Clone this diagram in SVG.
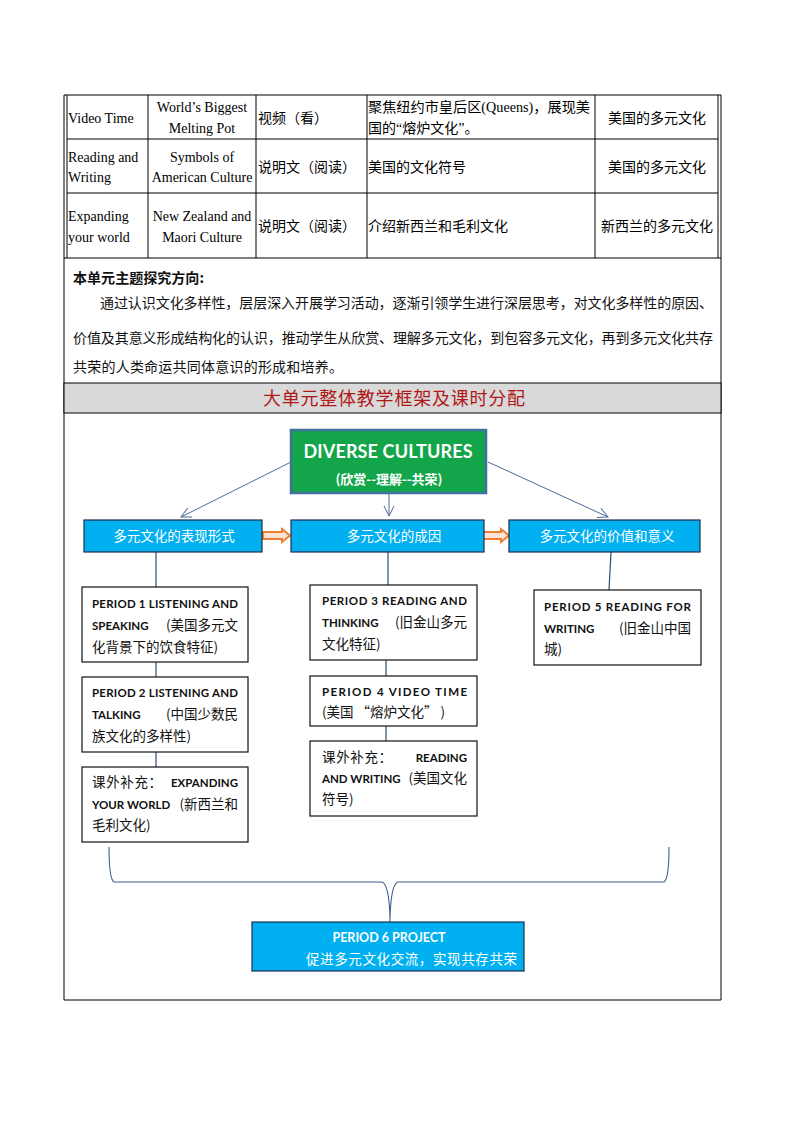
<svg xmlns="http://www.w3.org/2000/svg" width="794" height="1123" viewBox="0 0 794 1123">
<defs>
<style>
.tb{font-family:"Liberation Serif","Noto Sans CJK SC",serif;font-size:14px;fill:#000}
.cn{font-family:"Liberation Serif","Noto Sans CJK SC",sans-serif;font-size:14px;fill:#000}
.th{font-family:"Noto Sans CJK SC",sans-serif;font-size:14px;fill:#111}
.en{font-family:"Lato","Open Sans","Noto Sans CJK SC",sans-serif;font-weight:bold;font-size:11.5px;fill:#111}
.zh{font-family:"Noto Sans CJK SC",sans-serif;font-size:13.5px;fill:#111}
.wt{font-family:"Noto Sans CJK SC",sans-serif;font-size:13.5px;fill:#fff}
.grid{stroke:#000;stroke-width:1;fill:none}
.wbox{fill:#fff;stroke:#111;stroke-width:1.2}
.bbox{fill:#00B0F0;stroke:#1f2f4f;stroke-width:1.2}
.link{stroke:#2f4b6e;stroke-width:1.2;fill:none}
.arr{stroke:#4a6a9a;stroke-width:1;fill:none}
.orng{fill:#fbe5d6;stroke:#ED7D31;stroke-width:2}
</style>
<marker id="open" viewBox="0 0 12 12" refX="11" refY="6" markerWidth="12" markerHeight="12" markerUnits="userSpaceOnUse" orient="auto">
<path d="M1,1 L11,6 L1,11" fill="none" stroke="#4a6a9a" stroke-width="1"/>
</marker>
</defs>
<rect width="794" height="1123" fill="#fff"/>

<!-- top table -->
<g id="table">
<line class="grid" x1="64" y1="95" x2="721" y2="95" stroke-width="2"/>
<line class="grid" x1="64" y1="95" x2="64" y2="1000"/>
<line class="grid" x1="67" y1="95" x2="67" y2="258"/>
<line class="grid" x1="718" y1="95" x2="718" y2="258"/>
<line class="grid" x1="721" y1="95" x2="721" y2="1000"/>
<line class="grid" x1="67" y1="139" x2="718" y2="139"/>
<line class="grid" x1="67" y1="193" x2="718" y2="193"/>
<line class="grid" x1="64" y1="258" x2="721" y2="258" stroke-width="2"/>
<line class="grid" x1="148" y1="95" x2="148" y2="258"/>
<line class="grid" x1="256" y1="95" x2="256" y2="258"/>
<line class="grid" x1="367" y1="95" x2="367" y2="258"/>
<line class="grid" x1="595" y1="95" x2="595" y2="258"/>

<text class="tb" x="68" y="123">Video  Time</text>
<text class="tb" x="202" y="112" text-anchor="middle">World’s Biggest</text>
<text class="tb" x="202" y="133" text-anchor="middle">Melting Pot</text>
<text class="cn" x="258" y="123">视频（看）</text>
<text class="cn" x="368" y="112" textLength="222" lengthAdjust="spacingAndGlyphs">聚焦纽约市皇后区(Queens)，展现美</text>
<text class="cn" x="368" y="133">国的“熔炉文化”。</text>
<text class="cn" x="657" y="123" text-anchor="middle">美国的多元文化</text>

<text class="tb" x="68" y="162">Reading and</text>
<text class="tb" x="68" y="182">Writing</text>
<text class="tb" x="202" y="162" text-anchor="middle">Symbols of</text>
<text class="tb" x="202" y="182" text-anchor="middle">American Culture</text>
<text class="cn" x="258" y="172">说明文（阅读）</text>
<text class="cn" x="368" y="172">美国的文化符号</text>
<text class="cn" x="657" y="172" text-anchor="middle">美国的多元文化</text>

<text class="tb" x="68" y="221">Expanding</text>
<text class="tb" x="68" y="242">your world</text>
<text class="tb" x="202" y="221" text-anchor="middle">New Zealand and</text>
<text class="tb" x="202" y="242" text-anchor="middle">Maori Culture</text>
<text class="cn" x="258" y="231">说明文（阅读）</text>
<text class="cn" x="368" y="231">介绍新西兰和毛利文化</text>
<text class="cn" x="657" y="231" text-anchor="middle">新西兰的多元文化</text>
</g>

<!-- theme -->
<g id="theme">
<text class="th" x="73" y="283" font-size="13" font-weight="bold" textLength="131" lengthAdjust="spacingAndGlyphs">本单元主题探究方向:</text>
<text class="th" x="100" y="308" textLength="613" lengthAdjust="spacing">通过认识文化多样性，层层深入开展学习活动，逐渐引领学生进行深层思考，对文化多样性的原因、</text>
<text class="th" x="73" y="343" textLength="640" lengthAdjust="spacing">价值及其意义形成结构化的认识，推动学生从欣赏、理解多元文化，到包容多元文化，再到多元文化共存</text>
<text class="th" x="73" y="372" textLength="270" lengthAdjust="spacing">共荣的人类命运共同体意识的形成和培养。</text>
</g>

<!-- header band -->
<g id="header">
<rect x="64" y="383" width="657" height="30" fill="#d9d9d9" stroke="#000" stroke-width="1"/>
<text x="394" y="405" text-anchor="middle" font-family="Noto Sans CJK SC, sans-serif" font-size="18" fill="#b01818" textLength="262" lengthAdjust="spacing">大单元整体教学框架及课时分配</text>
</g>
<line class="grid" x1="64" y1="1000" x2="721" y2="1000"/>

<!-- connectors -->
<g id="connectors">
<line class="arr" x1="291" y1="462" x2="181" y2="517" marker-end="url(#open)"/>
<line class="arr" x1="389" y1="493" x2="389" y2="516" marker-end="url(#open)"/>
<line class="arr" x1="488" y1="462" x2="608" y2="517" marker-end="url(#open)"/>
<path class="orng" d="M263,532 L282,532 L282,529 L290,535.5 L282,542 L282,539 L263,539 Z"/>
<path class="orng" d="M482,532 L501,532 L501,529 L509,535.5 L501,542 L501,539 L482,539 Z"/>
<line class="link" x1="156" y1="552" x2="156" y2="587"/>
<line class="link" x1="156" y1="662" x2="156" y2="677"/>
<line class="link" x1="156" y1="752" x2="156" y2="767"/>
<line class="link" x1="388" y1="552" x2="388" y2="585"/>
<line class="link" x1="386" y1="660" x2="386" y2="677"/>
<line class="link" x1="386" y1="726" x2="386" y2="742"/>
<line class="link" x1="611" y1="552" x2="609" y2="590" stroke="#5a6f8f"/>
<path d="M109,847 Q109,879 114,882 L382,882 Q389,884 390,918 L390,922 M390,918 Q391,884 398,882 L664,882 Q669,879 669,847" fill="none" stroke="#3f5f8a" stroke-width="1.1"/>
</g>

<!-- center node -->
<g id="n-diverse">
<rect x="291" y="430" width="195" height="63" fill="#13a54a" stroke="#41719C" stroke-width="2.5"/>
<text x="388" y="458" text-anchor="middle" font-family="Lato, Open Sans, sans-serif" font-weight="bold" font-size="18" fill="#fff" textLength="169" lengthAdjust="spacing">DIVERSE CULTURES</text>
<text x="389" y="484" text-anchor="middle" font-family="Noto Sans CJK SC, sans-serif" font-weight="bold" font-size="13" fill="#fff">(欣赏--理解--共荣)</text>
</g>

<g id="n-forms">
<rect class="bbox" x="84" y="520" width="178" height="32"/>
<text class="wt" x="174" y="541" text-anchor="middle">多元文化的表现形式</text>
</g>
<g id="n-causes">
<rect class="bbox" x="291" y="520" width="193" height="32"/>
<text class="wt" x="394" y="541" text-anchor="middle">多元文化的成因</text>
</g>
<g id="n-value">
<rect class="bbox" x="509" y="520" width="191" height="32"/>
<text class="wt" x="607" y="541" text-anchor="middle">多元文化的价值和意义</text>
</g>

<g id="n-p1">
<rect class="wbox" x="82" y="587" width="166" height="75"/>
<text class="en" x="92" y="608" textLength="146" lengthAdjust="spacing">PERIOD 1 LISTENING AND</text>
<text class="en" x="92" y="630">SPEAKING</text>
<text class="zh" x="238" y="630" text-anchor="end">(美国多元文</text>
<text class="zh" x="92" y="652">化背景下的饮食特征)</text>
</g>
<g id="n-p2">
<rect class="wbox" x="82" y="677" width="166" height="75"/>
<text class="en" x="92" y="697" textLength="146" lengthAdjust="spacing">PERIOD 2 LISTENING AND</text>
<text class="en" x="92" y="719">TALKING</text>
<text class="zh" x="238" y="719" text-anchor="end">(中国少数民</text>
<text class="zh" x="92" y="741">族文化的多样性)</text>
</g>
<g id="n-ex1">
<rect class="wbox" x="82" y="767" width="166" height="75"/>
<text class="zh" x="92" y="787" textLength="70" lengthAdjust="spacing">课外补充：</text>
<text class="en" x="238" y="787" text-anchor="end">EXPANDING</text>
<text class="en" x="92" y="809">YOUR WORLD</text>
<text class="zh" x="238" y="809" text-anchor="end">(新西兰和</text>
<text class="zh" x="92" y="830">毛利文化)</text>
</g>

<g id="n-p3">
<rect class="wbox" x="310" y="585" width="167" height="75"/>
<text class="en" x="322" y="605" textLength="145" lengthAdjust="spacing">PERIOD 3 READING AND</text>
<text class="en" x="322" y="627">THINKING</text>
<text class="zh" x="467" y="627" text-anchor="end">(旧金山多元</text>
<text class="zh" x="322" y="649">文化特征)</text>
</g>
<g id="n-p4">
<rect class="wbox" x="310" y="676" width="167" height="50"/>
<text class="en" x="322" y="696" textLength="145" lengthAdjust="spacing">PERIOD 4 VIDEO TIME</text>
<text class="zh" x="322" y="717">(美国 “熔炉文化” )</text>
</g>
<g id="n-ex2">
<rect class="wbox" x="310" y="741" width="167" height="75"/>
<text class="zh" x="322" y="762" textLength="70" lengthAdjust="spacing">课外补充：</text>
<text class="en" x="467" y="762" text-anchor="end">READING</text>
<text class="en" x="322" y="783">AND WRITING</text>
<text class="zh" x="467" y="783" text-anchor="end">(美国文化</text>
<text class="zh" x="322" y="804">符号)</text>
</g>

<g id="n-p5">
<rect class="wbox" x="534" y="590" width="167" height="75"/>
<text class="en" x="544" y="611" textLength="147" lengthAdjust="spacing">PERIOD 5 READING FOR</text>
<text class="en" x="544" y="633">WRITING</text>
<text class="zh" x="691" y="633" text-anchor="end">(旧金山中国</text>
<text class="zh" x="544" y="654">城)</text>
</g>

<g id="n-p6">
<rect class="bbox" x="252" y="922" width="272" height="49"/>
<text x="389" y="942" text-anchor="middle" font-family="Lato, Open Sans, sans-serif" font-weight="bold" font-size="12.5" fill="#fff">PERIOD 6 PROJECT</text>
<text class="wt" x="306" y="964" textLength="211" lengthAdjust="spacing">促进多元文化交流，实现共存共荣</text>
</g>
</svg>
